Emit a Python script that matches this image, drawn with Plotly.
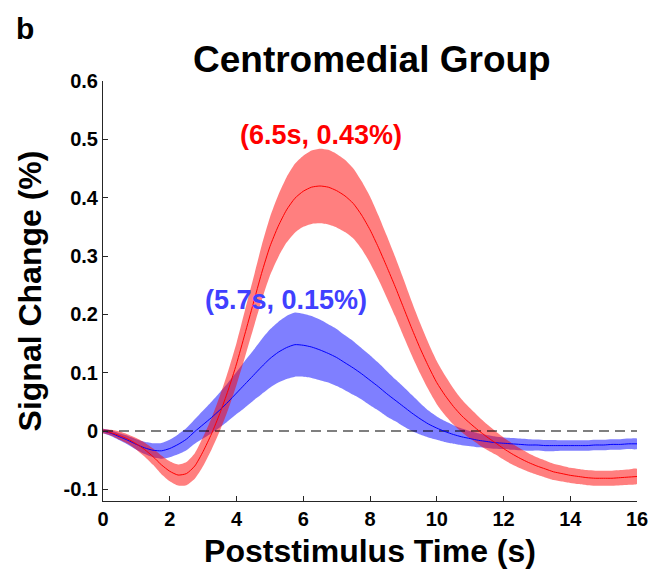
import plotly.graph_objects as go

# Time axis (s), 0.25 s steps
time_s = [i * 0.25 for i in range(65)]

# Red condition: mean signal change (%) and half-width of shaded band
red_mean = [0, -0.003, -0.008, -0.014, -0.022, -0.032, -0.044, -0.058, -0.069, -0.0755,
            -0.073, -0.060, -0.035, -0.005, 0.030, 0.070, 0.115, 0.166, 0.218, 0.270,
            0.316, 0.351, 0.379, 0.399, 0.411, 0.418, 0.420, 0.418, 0.412, 0.403,
            0.390, 0.370, 0.345, 0.315, 0.282, 0.248, 0.212, 0.176, 0.142, 0.111,
            0.083, 0.061, 0.042, 0.026, 0.013, 0.001, -0.010, -0.020, -0.030, -0.039,
            -0.047, -0.054, -0.060, -0.065, -0.070, -0.073, -0.076, -0.078, -0.080, -0.081,
            -0.081, -0.081, -0.080, -0.079, -0.078]
red_err = [0.004, 0.005, 0.007, 0.008, 0.010, 0.012, 0.014, 0.016, 0.017, 0.018,
           0.020, 0.022, 0.025, 0.027, 0.030, 0.033, 0.036, 0.040, 0.043, 0.047,
           0.050, 0.053, 0.056, 0.059, 0.061, 0.063, 0.064, 0.064, 0.063, 0.062,
           0.060, 0.058, 0.057, 0.055, 0.053, 0.051, 0.049, 0.046, 0.043, 0.040,
           0.037, 0.034, 0.031, 0.028, 0.026, 0.024, 0.022, 0.020, 0.019, 0.018,
           0.017, 0.016, 0.015, 0.0145, 0.014, 0.0135, 0.013, 0.013, 0.013, 0.013,
           0.013, 0.013, 0.013, 0.013, 0.013]

# Blue condition
blue_mean = [0, -0.004, -0.010, -0.016, -0.023, -0.029, -0.033, -0.034, -0.030, -0.023,
             -0.014, -0.001, 0.011, 0.023, 0.036, 0.050, 0.065, 0.080, 0.095, 0.110,
             0.124, 0.135, 0.143, 0.148, 0.147, 0.144, 0.139, 0.133, 0.126, 0.117,
             0.108, 0.098, 0.087, 0.076, 0.064, 0.053, 0.042, 0.031, 0.021, 0.012,
             0.005, -0.001, -0.006, -0.010, -0.013, -0.016, -0.018, -0.020, -0.021, -0.022,
             -0.023, -0.024, -0.024, -0.025, -0.025, -0.025, -0.025, -0.025, -0.025, -0.024,
             -0.024, -0.023, -0.023, -0.022, -0.022]
blue_err = [0.004, 0.005, 0.006, 0.0075, 0.009, 0.0105, 0.012, 0.0135, 0.015, 0.017,
            0.019, 0.021, 0.024, 0.027, 0.030, 0.033, 0.036, 0.040, 0.043, 0.047,
            0.050, 0.052, 0.054, 0.055, 0.054, 0.053, 0.052, 0.050, 0.049, 0.047,
            0.046, 0.044, 0.043, 0.041, 0.039, 0.036, 0.034, 0.031, 0.027, 0.023,
            0.020, 0.018, 0.016, 0.0145, 0.013, 0.012, 0.011, 0.0105, 0.010, 0.010,
            0.010, 0.010, 0.0095, 0.0095, 0.0095, 0.009, 0.009, 0.009, 0.009, 0.009,
            0.009, 0.009, 0.009, 0.009, 0.009]

x_ticks = [0, 2, 4, 6, 8, 10, 12, 14, 16]
y_ticks = [-0.1, 0, 0.1, 0.2, 0.3, 0.4, 0.5, 0.6]
y_ticktext = ["-0.1", "0", "0.1", "0.2", "0.3", "0.4", "0.5", "0.6"]

peak_red = (6.5, 0.43)
peak_blue = (5.7, 0.15)

FONT = "Liberation Sans, Arial, Helvetica, sans-serif"


def band(mean, err):
    up = [m + e for m, e in zip(mean, err)]
    lo = [m - e for m, e in zip(mean, err)]
    return time_s + time_s[::-1], up + lo[::-1]


fig = go.Figure()

bx, by = band(blue_mean, blue_err)
fig.add_trace(go.Scatter(x=bx, y=by, fill="toself", fillcolor="rgba(0,0,255,0.5)",
                         line=dict(width=0, shape="spline", smoothing=0.6),
                         mode="lines", hoverinfo="skip", showlegend=False))
rx, ry = band(red_mean, red_err)
fig.add_trace(go.Scatter(x=rx, y=ry, fill="toself", fillcolor="rgba(255,0,0,0.5)",
                         line=dict(width=0, shape="spline", smoothing=0.6),
                         mode="lines", hoverinfo="skip", showlegend=False))

# zero reference line
fig.add_trace(go.Scatter(x=[0, 16], y=[0, 0], mode="lines",
                         line=dict(color="black", width=1.2, dash="10px,6px"),
                         showlegend=False, hoverinfo="skip"))

fig.add_trace(go.Scatter(x=time_s, y=blue_mean, mode="lines",
                         line=dict(color="#0000FF", width=1, shape="spline", smoothing=0.6),
                         showlegend=False))
fig.add_trace(go.Scatter(x=time_s, y=red_mean, mode="lines",
                         line=dict(color="#FF0000", width=1, shape="spline", smoothing=0.6),
                         showlegend=False))

axis_font = dict(family=FONT, size=20, color="black", weight="bold")

fig.update_layout(
    width=661, height=578,
    margin=dict(l=103, r=24, t=81, b=77),
    paper_bgcolor="white", plot_bgcolor="white",
    showlegend=False,
    xaxis=dict(range=[0, 16], tickvals=x_ticks, ticks="inside", ticklen=5,
               tickcolor="#262626", showline=True, linecolor="#262626", linewidth=1,
               showgrid=False, zeroline=False, tickfont=axis_font,
               title=dict(text="Poststimulus Time (s)", standoff=10,
                          font=dict(family=FONT, size=32, color="black", weight="bold"))),
    yaxis=dict(range=[-0.12, 0.6], tickvals=y_ticks, ticktext=y_ticktext,
               ticks="inside", ticklen=5, tickcolor="#262626", showline=True,
               linecolor="#262626", linewidth=1, showgrid=False, zeroline=False,
               tickfont=axis_font,
               title=dict(text="Signal Change (%)", standoff=12,
                          font=dict(family=FONT, size=32, color="black", weight="bold"))),
)

fig.add_annotation(text="Centromedial Group", xref="paper", yref="paper",
                   x=0.503, y=1.05, showarrow=False, xanchor="center", yanchor="middle",
                   font=dict(family=FONT, size=37, color="black", weight="bold"))
fig.add_annotation(text="b", xref="paper", yref="paper", x=-0.147, y=1.124,
                   showarrow=False, xanchor="center", yanchor="middle",
                   font=dict(family=FONT, size=30, color="black", weight="bold"))
fig.add_annotation(text=f"({peak_red[0]}s, {peak_red[1]:.2f}%)", x=6.53, y=0.508,
                   showarrow=False, xanchor="center", yanchor="middle",
                   font=dict(family=FONT, size=27, color="#FF0000", weight="bold"))
fig.add_annotation(text=f"({peak_blue[0]}s, {peak_blue[1]:.2f}%)", x=5.49, y=0.225,
                   showarrow=False, xanchor="center", yanchor="middle",
                   font=dict(family=FONT, size=27, color="#4040FF", weight="bold"))

fig.write_html("out.html")
